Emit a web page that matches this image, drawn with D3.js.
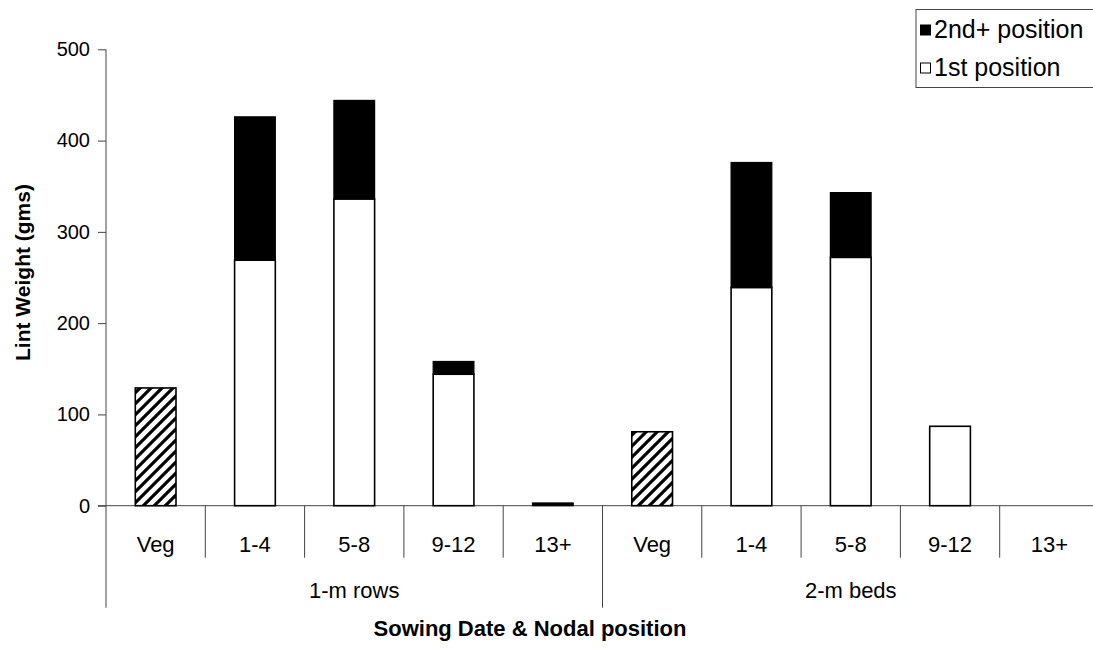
<!DOCTYPE html>
<html>
<head>
<meta charset="utf-8">
<script src="https://cdn.jsdelivr.net/npm/d3@7"></script>
<style>
  html, body { margin: 0; padding: 0; background: #fff; }
  svg { display: block; font-family: "Liberation Sans", Arial, sans-serif; }
</style>
</head>
<body>
<svg id="chart" width="1093" height="648"></svg>
<script>
// Lint weight by sowing layout and nodal position
const groups = ["1-m rows", "2-m beds"];
const positions = ["Veg", "1-4", "5-8", "9-12", "13+"];
const vegValues = [129, 81];                 // vegetative branches (hatched)
const firstPos = [[0, 269, 336, 144, 0], [0, 239, 272, 87, 0]];
const secondPos = [[0, 157, 108, 14, 3], [0, 137, 71, 0, 0]];
const yTicks = [0, 100, 200, 300, 400, 500];
const legendLabels = ["2nd+ position", "1st position"];

const svg = d3.select("#chart");
const margin = { left: 106, right: 1099, top: 49.3, bottom: 505.7 };
const fs = 20, catFs = 22;

const cats = [];
groups.forEach((g, gi) => positions.forEach((p, pi) => cats.push({ key: gi + "|" + pi, g: gi, p: pi, label: p })));

const x = d3.scaleBand().domain(cats.map(d => d.key)).range([margin.left, margin.right]).paddingInner(0.59).paddingOuter(0.295);
const xOuter = d3.scaleBand().domain(cats.map(d => d.key)).range([margin.left, margin.right]);
const y = d3.scaleLinear().domain([0, 500]).range([margin.bottom, margin.top]);

// hatch pattern for vegetative bars
const defs = svg.append("defs");
const pat = defs.append("pattern").attr("id", "hatch").attr("patternUnits", "userSpaceOnUse")
  .attr("width", 11).attr("height", 11);
pat.append("rect").attr("width", 11).attr("height", 11).attr("fill", "#fff");
pat.append("path").attr("d", "M-3,3 L3,-3 M0,11 L11,0 M8,14 L14,8")
  .attr("stroke", "#000").attr("stroke-width", 3.2);

// y axis
const yAxis = svg.append("g").attr("transform", `translate(${margin.left},0)`)
  .call(d3.axisLeft(y).tickValues(yTicks).tickSize(8).tickPadding(8));
yAxis.select(".domain").attr("stroke", "#444").attr("d", `M0,${margin.top}V${margin.bottom}`);
yAxis.selectAll(".tick line").attr("stroke", "#444");
yAxis.selectAll("text").attr("font-size", fs).attr("fill", "#000").attr("font-family", "Liberation Sans, Arial, sans-serif");

// x baseline
svg.append("line").attr("x1", margin.left - 8).attr("x2", margin.right).attr("y1", y(0)).attr("y2", y(0)).attr("stroke", "#444");

// category separators
const sepTop = y(0);
cats.forEach(d => {
  const xb = xOuter(d.key);
  const full = d.p === 0;
  svg.append("line").attr("x1", xb).attr("x2", xb).attr("y1", sepTop).attr("y2", sepTop + (full ? 102 : 52)).attr("stroke", "#444");
});
svg.append("line").attr("x1", margin.right).attr("x2", margin.right).attr("y1", sepTop).attr("y2", sepTop + 102).attr("stroke", "#444");

// category labels
svg.append("g").selectAll("text").data(cats).join("text")
  .attr("x", d => xOuter(d.key) + xOuter.bandwidth() / 2)
  .attr("y", sepTop + 46)
  .attr("text-anchor", "middle").attr("font-size", catFs).text(d => d.label);

// group labels
groups.forEach((g, gi) => {
  const first = xOuter(gi + "|0");
  const last = xOuter(gi + "|4") + xOuter.bandwidth();
  svg.append("text").attr("x", (first + last) / 2).attr("y", sepTop + 92)
    .attr("text-anchor", "middle").attr("font-size", catFs).text(g);
});

// bars
const barG = svg.append("g");
cats.forEach(d => {
  const bx = x(d.key), bw = x.bandwidth();
  if (d.p === 0) {
    const v = vegValues[d.g];
    barG.append("rect").attr("x", bx).attr("width", bw).attr("y", y(v)).attr("height", y(0) - y(v))
      .attr("fill", "url(#hatch)").attr("stroke", "#000").attr("stroke-width", 1.6);
    return;
  }
  const f = firstPos[d.g][d.p], s = secondPos[d.g][d.p];
  if (f > 0) {
    barG.append("rect").attr("x", bx).attr("width", bw).attr("y", y(f)).attr("height", y(0) - y(f))
      .attr("fill", "#fff").attr("stroke", "#000").attr("stroke-width", 1.6);
  }
  if (s > 0) {
    barG.append("rect").attr("x", bx).attr("width", bw).attr("y", y(f + s)).attr("height", y(f) - y(f + s))
      .attr("fill", "#000").attr("stroke", "#000").attr("stroke-width", 1.2);
  }
});

// axis titles
svg.append("text").attr("transform", `translate(30,${(margin.top + margin.bottom) / 2 - 5}) rotate(-90)`)
  .attr("text-anchor", "middle").attr("font-size", 21).attr("font-weight", "bold").text("Lint Weight (gms)");
svg.append("text").attr("x", 530).attr("y", 636)
  .attr("text-anchor", "middle").attr("font-size", 22).attr("font-weight", "bold").text("Sowing Date & Nodal position");

// legend
const lg = svg.append("g");
lg.append("rect").attr("x", 916).attr("y", 9.5).attr("width", 190).attr("height", 78)
  .attr("fill", "#fff").attr("stroke", "#444");
const legFill = ["#000", "#fff"];
legendLabels.forEach((t, i) => {
  const cy = 30 + i * 38;
  lg.append("rect").attr("x", 920.5).attr("y", cy - 5).attr("width", 10).attr("height", 10)
    .attr("fill", legFill[i]).attr("stroke", "#000").attr("stroke-width", 1);
  lg.append("text").attr("x", 934).attr("y", cy + 8).attr("font-size", 25).text(t);
});
</script>
</body>
</html>
